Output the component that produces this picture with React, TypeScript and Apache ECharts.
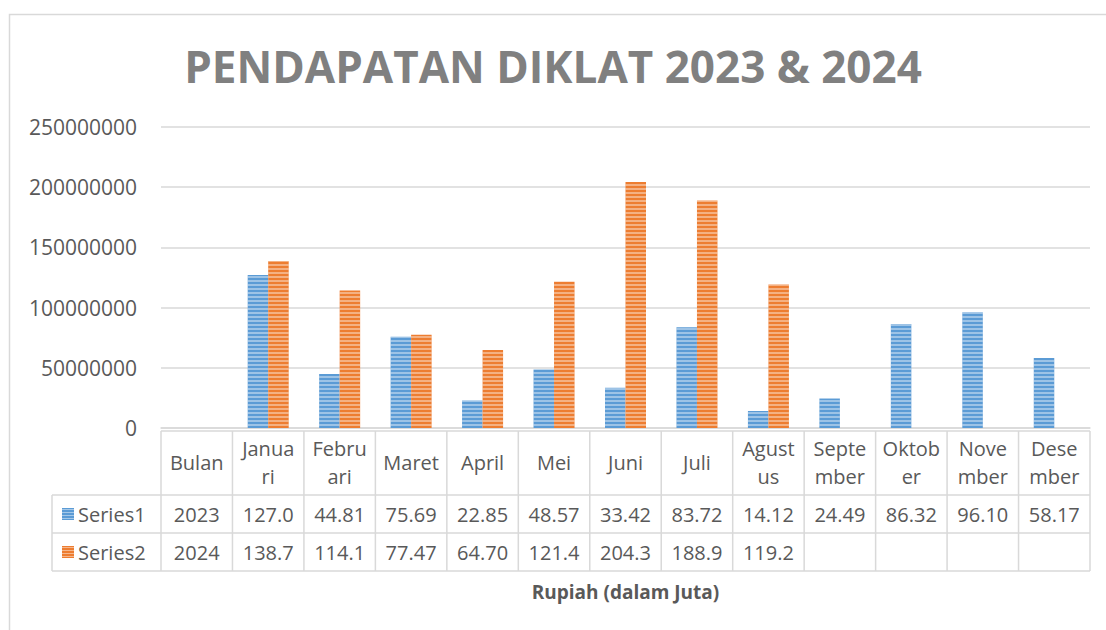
import React, { useEffect, useRef } from "react";
import * as echarts from "echarts";

const titleText = "PENDAPATAN DIKLAT 2023 & 2024";
const categories = ["Bulan", "Januari", "Februari", "Maret", "April", "Mei", "Juni", "Juli", "Agustus", "September", "Oktober", "November", "Desember"];
const headerLabels = ["Bulan", "Janua\nri", "Febru\nari", "Maret", "April", "Mei", "Juni", "Juli", "Agust\nus", "Septe\nmber", "Oktob\ner", "Nove\nmber", "Dese\nmber"];
const seriesNames = ["Series1", "Series2"];
const series1Values: (number | null)[] = [2023, 127000000, 44810000, 75690000, 22850000, 48570000, 33420000, 83720000, 14120000, 24490000, 86320000, 96100000, 58170000];
const series2Values: (number | null)[] = [2024, 138700000, 114100000, 77470000, 64700000, 121400000, 204300000, 188900000, 119200000, null, null, null, null];
const yMin = 0;
const yMax = 250000000;
const yInterval = 50000000;
const axisTitle = "Rupiah (dalam Juta)";

const colors = ["#5b9bd5", "#ed7d31"];
const FONT = "Open Sans";
const TEXT = "#595959";
const LINE = "#d9d9d9";

const GRID_LEFT = 161;
const GRID_RIGHT_X = 1090;
const ZERO_Y = 428;
const TOP_Y = 127;
const TABLE_TOP = 431;
const ROW_H = 38;
const HEADER_BOTTOM = 495;
const LEGEND_LEFT = 52;

function cellText(v: number | null): string {
  if (v == null) return "";
  if (v < 1000000) return String(v);
  return (v / 1000000).toPrecision(4);
}

export default function App() {
  const ref = useRef<HTMLDivElement>(null);
  useEffect(() => {
    if (!ref.current) return;
    const chart = echarts.init(ref.current, undefined, { renderer: "svg" });
    const n = categories.length;
    const cw = (GRID_RIGHT_X - GRID_LEFT) / n;
    const tableBottom = HEADER_BOTTOM + ROW_H * 2;

    const decal = {
      symbol: "rect",
      symbolSize: 1,
      dashArrayX: [1, 0],
      dashArrayY: [1.5, 1.5],
      color: "rgba(255,255,255,0.4)",
      rotation: 0,
    };

    const graphics: any[] = [];
    graphics.push({
      type: "rect",
      shape: { x: 9.5, y: 14.5, width: 1200, height: 700 },
      style: { fill: "none", stroke: LINE, lineWidth: 1.5 },
      silent: true,
    });
    const hLines: [number, number, number][] = [
      [GRID_LEFT, GRID_RIGHT_X, TABLE_TOP],
      [LEGEND_LEFT, GRID_RIGHT_X, HEADER_BOTTOM],
      [LEGEND_LEFT, GRID_RIGHT_X, HEADER_BOTTOM + ROW_H],
      [LEGEND_LEFT, GRID_RIGHT_X, tableBottom],
    ];
    hLines.forEach(([x1, x2, y]) =>
      graphics.push({
        type: "line",
        shape: { x1, y1: y, x2, y2: y },
        style: { stroke: LINE, lineWidth: 1.5 },
        silent: true,
      })
    );
    graphics.push({
      type: "line",
      shape: { x1: LEGEND_LEFT, y1: HEADER_BOTTOM, x2: LEGEND_LEFT, y2: tableBottom },
      style: { stroke: LINE, lineWidth: 1.5 },
      silent: true,
    });
    for (let k = 0; k <= n; k++) {
      const x = GRID_LEFT + k * cw;
      graphics.push({
        type: "line",
        shape: { x1: x, y1: TABLE_TOP, x2: x, y2: tableBottom },
        style: { stroke: LINE, lineWidth: 1.5 },
        silent: true,
      });
    }
    seriesNames.forEach((name, i) => {
      const cy = HEADER_BOTTOM + ROW_H * i + ROW_H / 2;
      graphics.push({
        type: "rect",
        shape: { x: 62, y: cy - 6, width: 12, height: 12 },
        style: { fill: colors[i] },
        silent: true,
      });
      for (let s = 0; s < 4; s++) {
        graphics.push({
          type: "line",
          shape: { x1: 62, y1: cy - 4.5 + s * 3, x2: 74, y2: cy - 4.5 + s * 3 },
          style: { stroke: "rgba(255,255,255,0.45)", lineWidth: 1 },
          silent: true,
        });
      }
      graphics.push({
        type: "text",
        x: 78,
        y: cy,
        style: {
          text: name,
          fill: TEXT,
          font: `20px "${FONT}"`,
          textAlign: "left",
          textVerticalAlign: "middle",
        },
        silent: true,
      });
    });

    const tableAxis = (vals: (number | null)[], rowIndex: number) => ({
      type: "category",
      data: vals.map(cellText),
      position: "bottom",
      gridIndex: 0,
      axisLine: { show: false },
      axisTick: { show: false },
      splitLine: { show: false },
      axisLabel: {
        interval: 0,
        color: TEXT,
        fontFamily: FONT,
        fontSize: 20,
        verticalAlign: "middle",
        margin: HEADER_BOTTOM + ROW_H * rowIndex + ROW_H / 2 - ZERO_Y,
      },
    });

    chart.setOption({
      animation: false,
      backgroundColor: "#ffffff",
      title: {
        text: titleText,
        left: "center",
        top: 36,
        textStyle: {
          fontFamily: FONT,
          fontSize: 44,
          fontWeight: "bold",
          color: "#808080",
          lineHeight: 50,
        },
      },
      grid: {
        left: GRID_LEFT,
        right: 1106 - GRID_RIGHT_X,
        top: TOP_Y,
        bottom: 630 - ZERO_Y,
        containLabel: false,
      },
      xAxis: [
        {
          type: "category",
          data: categories,
          position: "bottom",
          axisLine: { show: true, lineStyle: { color: LINE, width: 1.5 } },
          axisTick: { show: false },
          axisLabel: {
            interval: 0,
            color: TEXT,
            fontFamily: FONT,
            fontSize: 20,
            lineHeight: 28,
            verticalAlign: "middle",
            margin: 34,
            formatter: (_v: string, idx: number) => headerLabels[idx],
          },
          name: axisTitle,
          nameLocation: "middle",
          nameGap: 164,
          nameTextStyle: {
            color: TEXT,
            fontFamily: FONT,
            fontSize: 19,
            fontWeight: "bold",
            verticalAlign: "middle",
          },
        },
        tableAxis(series1Values, 0),
        tableAxis(series2Values, 1),
      ],
      yAxis: {
        type: "value",
        min: yMin,
        max: yMax,
        interval: yInterval,
        axisLine: { show: false },
        axisTick: { show: false },
        splitLine: { show: true, lineStyle: { color: LINE, width: 1.5 } },
        axisLabel: {
          color: TEXT,
          fontFamily: FONT,
          fontSize: 21,
          margin: 24,
          formatter: (v: number) => String(v),
        },
      },
      series: [
        {
          name: seriesNames[0],
          type: "bar",
          xAxisIndex: 0,
          data: series1Values,
          barWidth: 20.5,
          barGap: "0%",
          itemStyle: { color: colors[0], decal },
        },
        {
          name: seriesNames[1],
          type: "bar",
          xAxisIndex: 0,
          data: series2Values,
          barWidth: 20.5,
          barGap: "0%",
          itemStyle: { color: colors[1], decal },
        },
      ],
      graphic: graphics,
    });
    return () => chart.dispose();
  }, []);
  return (
    <div
      ref={ref}
      style={{ position: "fixed", left: 0, top: 0, width: 1106, height: 630 }}
    />
  );
}
